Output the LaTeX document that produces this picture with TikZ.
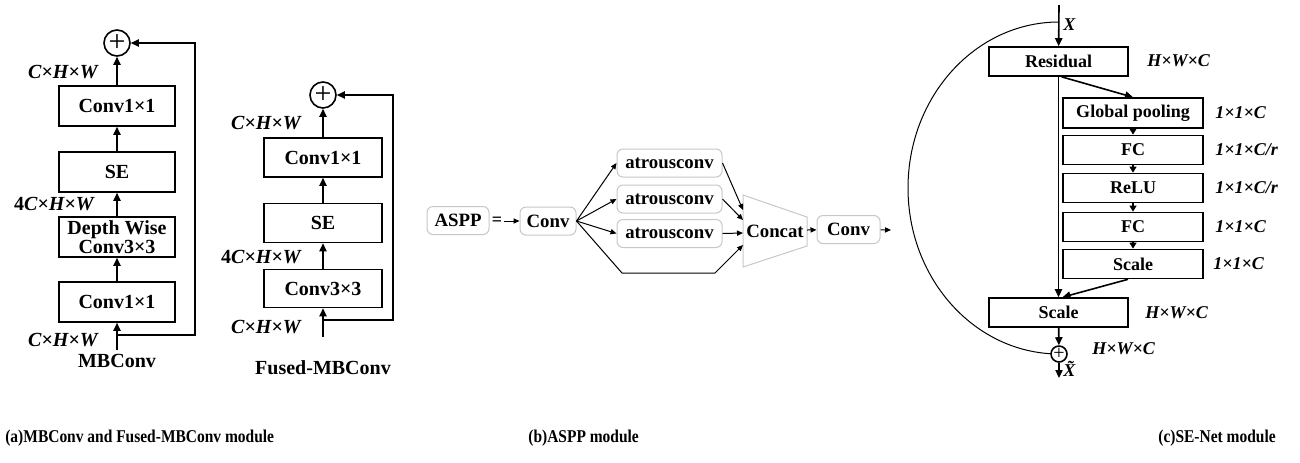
\documentclass[tikz,border=0pt]{standalone}
\usepackage{fontspec}
\setmainfont{Liberation Serif}
\usetikzlibrary{arrows.meta}

\begin{document}
\begin{tikzpicture}[x=0.5pt,y=-0.5pt,
	font=\fontsize{9}{9.5}\selectfont\bfseries,
	big/.style={font=\fontsize{10}{10}\selectfont\bfseries},
	blk/.style={draw,line width=0.8pt,minimum height=20pt,inner sep=0pt,align=center},
	ablk/.style={blk,big},
	seblk/.style={blk,minimum height=14.5pt},
	rbox/.style={draw=black!22,rounded corners=3pt,line width=0.5pt,minimum height=14pt,inner sep=0pt,font=\fontsize{9.4}{9.4}\selectfont\bfseries},
	sum/.style={draw,circle,line width=0.8pt,inner sep=0pt,minimum size=13pt,font=\fontsize{15}{15}\selectfont\mdseries},
	dim/.style={font=\fontsize{9}{9}\selectfont\bfseries\itshape,inner sep=0pt},
	adim/.style={dim,font=\fontsize{10}{10}\selectfont\bfseries\itshape},
	caption/.style={anchor=west,inner sep=0pt,xscale=0.86,transform shape},
	arr/.style={-{Triangle[length=4pt,width=3.6pt]},line width=0.8pt},
	sarr/.style={-{Triangle[length=3pt,width=3.4pt]},line width=0.8pt},
	tarr/.style={-{Triangle[length=3pt,width=2.6pt]},line width=0.5pt}]
	
	\useasboundingbox (0,0) rectangle (1300,462);
	
	% (a) MBConv
	\node[sum] (mbsum) at (117,43) {+};
	\node[ablk,minimum width=58pt] (mbcb) at (117,106) {Conv1×1};
	\node[ablk,minimum width=58pt] (mbse) at (117,172) {SE};
	\node[ablk,minimum width=58pt,font=\fontsize{10}{9.6}\selectfont\bfseries] (mbdw) at (117,237) {Depth Wise\\Conv3×3};
	\node[ablk,minimum width=58pt] (mbca) at (117,302) {Conv1×1};
	\coordinate (mbin) at (117,350);
	\coordinate (mbsplit) at (117,335);
	\coordinate (mbright) at (195,43);
	\draw[arr] (mbin) -- (mbca);
	\draw[arr] (mbca) -- (mbdw);
	\draw[arr] (mbdw) -- (mbse);
	\draw[arr] (mbse) -- (mbcb);
	\draw[arr] (mbcb) -- (mbsum);
	\draw[arr] (mbsplit) -| (mbright) -- (mbsum);
	\node[adim,anchor=east] at (98,72) {C×H×W};
	\node[adim,anchor=east] at (94,204) {{\upshape 4}C×H×W};
	\node[adim,anchor=east] at (98,340) {C×H×W};
	\node[big] at (117,361) {MBConv};
	
	% (a) Fused-MBConv
	\node[sum] (fmsum) at (323,95) {+};
	\node[ablk,minimum width=59pt,minimum height=19.5pt] (fmcb) at (323,157.5) {Conv1×1};
	\node[ablk,minimum width=59pt,minimum height=19.5pt] (fmse) at (323,223) {SE};
	\node[ablk,minimum width=59pt,minimum height=19pt] (fmca) at (323,288.5) {Conv3×3};
	\coordinate (fmin) at (323,337);
	\coordinate (fmsplit) at (323,320);
	\coordinate (fmright) at (393,95);
	\draw[arr] (fmin) -- (fmca);
	\draw[arr] (fmca) -- (fmse);
	\draw[arr] (fmse) -- (fmcb);
	\draw[arr] (fmcb) -- (fmsum);
	\draw[arr] (fmsplit) -| (fmright) -- (fmsum);
	\node[adim,anchor=east] at (301,123) {C×H×W};
	\node[adim,anchor=east] at (301,257) {{\upshape 4}C×H×W};
	\node[adim,anchor=east] at (301,327) {C×H×W};
	\node[big] at (323,368) {Fused-MBConv};
	
	% (b) ASPP
	\node[rbox,minimum width=31pt] (aspp) at (458,220.5) {ASPP};
	\node[inner sep=0.5pt] (eq) at (497,221) {=};
	\node[rbox,minimum width=28pt] (conva) at (548,221) {Conv};
	\node[rbox,minimum width=52.5pt] (atra) at (669.5,163) {atrousconv};
	\node[rbox,minimum width=52.5pt] (atrb) at (669.5,199) {atrousconv};
	\node[rbox,minimum width=52.5pt] (atrc) at (669.5,233.5) {atrousconv};
	\coordinate (cata) at (743,195);
	\coordinate (catb) at (807,217);
	\coordinate (catc) at (807,246);
	\coordinate (catd) at (743,267);
	\draw[black!22,line width=0.5pt] (cata) -- (catb) -- (catc) -- (catd) -- cycle;
	\node[font=\fontsize{9.4}{9.4}\selectfont\bfseries] (concat) at (775,231) {Concat};
	\coordinate (ina) at (743,210);
	\coordinate (inb) at (743,220);
	\coordinate (inc) at (743,233);
	\coordinate (ind) at (743,245);
	\coordinate (lowl) at (622,273);
	\coordinate (lowr) at (715,273);
	\coordinate (catout) at (807,230);
	\node[rbox,minimum width=31.5pt] (convb) at (848.5,229.5) {Conv};
	\coordinate (asppout) at (891,230);
	\draw[tarr] (eq) -- (conva);
	\draw[tarr] (conva.east) -- (atra.west);
	\draw[tarr] (conva.east) -- (atrb.west);
	\draw[tarr] (conva.east) -- (atrc.west);
	\draw[tarr] (conva.east) -- (lowl) -- (lowr) -- (ind);
	\draw[tarr] (atra.east) -- (ina);
	\draw[tarr] (atrb.east) -- (inb);
	\draw[tarr] (atrc.east) -- (inc);
	\draw[tarr] (catout) -- (convb);
	\draw[tarr] (convb) -- (asppout);
	
	% (c) SE-Net
	\coordinate (xin) at (1059,5);
	\coordinate (xtap) at (1059,22);
	\node[seblk,minimum width=69.5pt] (res) at (1058.5,61.5) {Residual};
	\node[seblk,minimum width=70pt,minimum height=15pt] (gp) at (1133,113) {Global pooling};
	\node[seblk,minimum width=70pt] (fca) at (1133,150) {FC};
	\node[seblk,minimum width=70pt] (relu) at (1133,188) {ReLU};
	\node[seblk,minimum width=70pt] (fcb) at (1133,227) {FC};
	\node[seblk,minimum width=70pt] (scla) at (1133,264) {Scale};
	\node[seblk,minimum width=69.5pt] (sclb) at (1058.5,312.5) {Scale};
	\node[sum,minimum size=7pt,font=\fontsize{10}{10}\selectfont\mdseries] (sesum) at (1059,354) {+};
	\coordinate (xout) at (1059,378);
	\draw[arr] (xin) -- (res);
	\draw[arr] ([xshift=1.5pt]res.south) -- (gp.north);
	\draw[sarr] (gp) -- (fca);
	\draw[sarr] (fca) -- (relu);
	\draw[sarr] (relu) -- (fcb);
	\draw[sarr] (fcb) -- (scla);
	\draw[arr] ([xshift=-2.5pt]scla.south) -- ([xshift=2pt]sclb.north);
	\draw[arr] (res) -- (sclb);
	\draw[arr] (sclb) -- (sesum);
	\draw[arr] (sesum) -- (xout);
	\draw[line width=0.5pt] (xtap) arc[start angle=270,end angle=92.7,x radius=151,y radius=166];
	\node[dim,anchor=west] at (1063,25) {X};
	\node[dim,anchor=west] at (1063,369) {\~{X}};
	\node[dim,anchor=west] at (1147,61) {H×W×C};
	\node[dim,anchor=west] at (1215,113) {1×1×C};
	\node[dim,anchor=west] at (1215,150) {1×1×C/r};
	\node[dim,anchor=west] at (1215,188) {1×1×C/r};
	\node[dim,anchor=west] at (1215,227) {1×1×C};
	\node[dim,anchor=west] at (1213,264) {1×1×C};
	\node[dim,anchor=west] at (1145,313) {H×W×C};
	\node[dim,anchor=west] at (1092,349) {H×W×C};
	
	% captions
	\node[caption] at (5,438) {(a)MBConv and Fused-MBConv module};
	\node[caption] at (528,438) {(b)ASPP module};
	\node[caption] at (1158,438) {(c)SE-Net module};
	
\end{tikzpicture}
\end{document}
